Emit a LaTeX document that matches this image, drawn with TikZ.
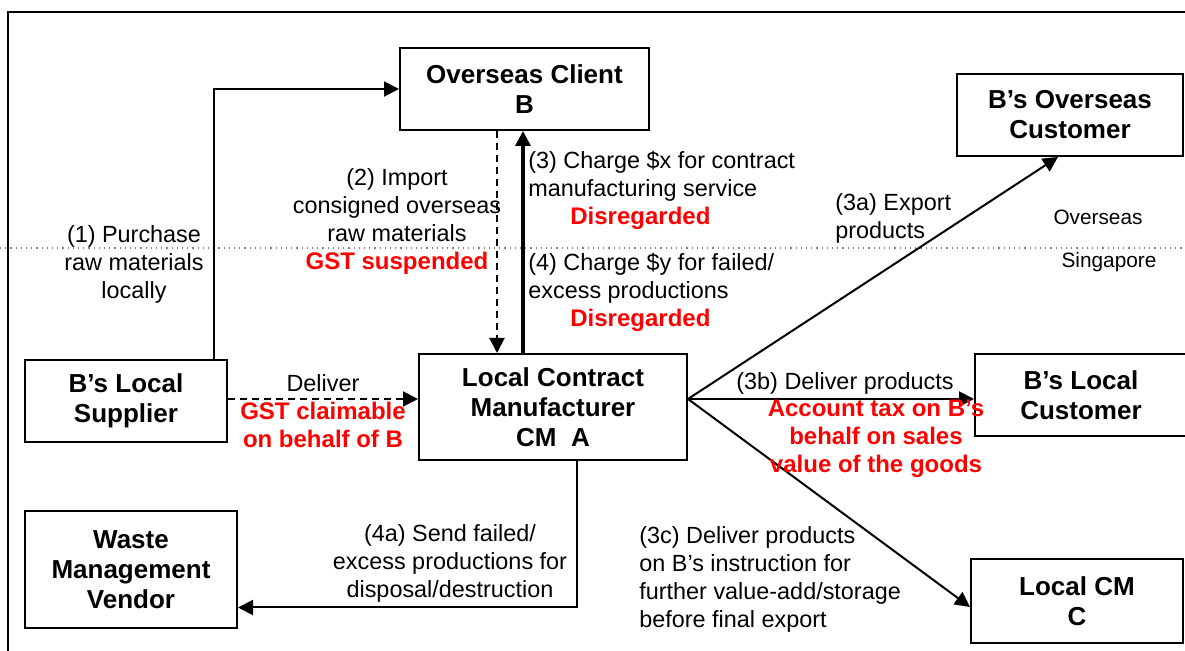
\documentclass[tikz,border=0pt]{standalone}
\usepackage{fontspec}
\setmainfont{Liberation Sans}
\usepackage{xcolor}
\usetikzlibrary{arrows.meta,positioning,calc}
\definecolor{taxred}{RGB}{255,0,0}
\newcommand{\lblfont}{\fontsize{11.7}{14}\selectfont}
\newcommand{\boxfont}{\fontsize{13}{15}\selectfont\bfseries}
\newcommand{\taxnote}[1]{{\color{taxred}\fontsize{12}{14}\selectfont\bfseries #1}}

\begin{document}
\begin{tikzpicture}[x=0.5pt,y=-0.5pt, %像素坐标
	box/.style={draw,line width=1pt,inner sep=0pt,align=center,font=\boxfont},
	flow/.style={-{Triangle[length=7.5pt,width=7.5pt]},line width=1pt},
	lbl/.style={inner sep=0pt,font=\lblfont},
	note/.style={inner sep=0pt,align=center,text=taxred,font=\fontsize{12}{14}\selectfont\bfseries}]
		\useasboundingbox (0,0) rectangle (1185,651);
		\clip (0,0) rectangle (1185,651);
		%\draw[help lines] (0,0) grid[step=50] (1185,651);
		\draw[line width=0.8pt] (8,670) |- (1200,12);
		\draw[gray,dotted,line width=0.6pt] (0,248) -- (1185,248);
		% boxes
		\node[box,minimum width=124.5pt,minimum height=41pt] (client) at (524.5,89) {Overseas Client\\B};
		\node[box,minimum width=113pt,minimum height=41pt] (ocust) at (1070,115) {B’s Overseas\\Customer};
		\node[box,minimum width=101pt,minimum height=41pt] (supplier) at (126,401) {B’s Local\\Supplier};
		\node[box,minimum width=134pt,minimum height=53pt] (cma) at (553,407) {Local Contract\\Manufacturer\\CM\ \ A};
		\node[box,minimum width=106pt,minimum height=41pt] (lcust) at (1081,395) {B’s Local\\Customer};
		\node[box,minimum width=106pt,minimum height=58.5pt] (waste) at (131,569.5) {Waste\\Management\\Vendor};
		\node[box,minimum width=106pt,minimum height=42pt] (cmc) at (1077,601) {Local CM\\C};
		% connectors
		\draw[flow] ([xshift=44pt]supplier.north) |- (client.west);
		\draw[flow,dashed,dash pattern=on 3.5pt off 2.5pt] ([xshift=-28pt]cma.north |- client.south) -- ([xshift=-28pt]cma.north);
		\draw[flow,line width=1.6pt] ([xshift=-15pt]cma.north) -- ([xshift=-15pt]cma.north |- client.south);
		\draw[flow,dashed,dash pattern=on 3.5pt off 2.5pt] ([yshift=1pt]supplier.east) -- ([yshift=1pt]supplier.east -| cma.west);
		\coordinate (fork) at ([yshift=4pt]cma.east);
		\draw[flow] (fork) -- ([xshift=-6pt]ocust.south);
		\draw[flow] (fork) -- (fork -| lcust.west);
		\draw[flow] (fork) -- ([yshift=-3pt]cmc.west);
		\draw[flow] ([xshift=12pt]cma.south) |- ([yshift=-19pt]waste.east);
		% labels
		\node[lbl,align=center] (l1) at (134,264) {(1) Purchase\\raw materials\\locally};
		\node[lbl,align=center] (l2) at (397,222) {(2) Import\\consigned overseas\\raw materials\\\taxnote{GST suspended}};
		\node[lbl,align=left,anchor=west] (l3) at (528,190.5) {(3) Charge \$x for contract\\manufacturing service\\\hspace*{21pt}\taxnote{Disregarded}};
		\node[lbl,align=left,anchor=west] (l4) at (528,292) {(4) Charge \$y for failed/\\excess productions\\\hspace*{21pt}\taxnote{Disregarded}};
		\node[lbl,align=left,anchor=west] (l3a) at (835,218) {(3a) Export\\products};
		\node[lbl,font=\fontsize{10.4}{12}\selectfont] (ovs) at (1098,217) {Overseas};
		\node[lbl,font=\fontsize{10.4}{12}\selectfont] (sgp) at (1109,262) {Singapore};
		\node[lbl] (dlv) at (323,383) {Deliver};
		\node[note] (gstc) at (323,425) {GST claimable\\on behalf of B};
		\node[lbl] (l3b) at (845,383) {(3b) Deliver products};
		\node[note] (acct) at (876,439) {Account tax on B’s\\behalf on sales\\value of the goods};
		\node[lbl,align=left,anchor=west] (l3c) at (639,579) {(3c) Deliver products\\on B’s instruction for\\further value-add/storage\\before final export};
		\node[lbl,align=center] (l4a) at (450,563) {(4a) Send failed/\\excess productions for\\disposal/destruction};
	\end{tikzpicture}
\end{document}
